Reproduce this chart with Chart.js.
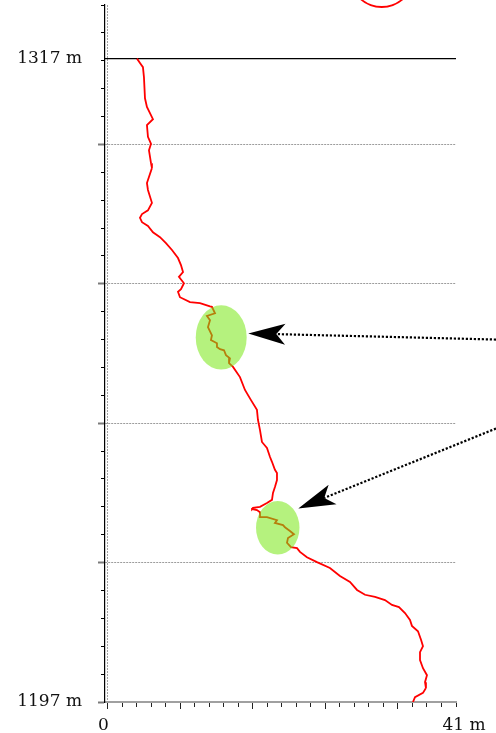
<!DOCTYPE html>
<html>
<head>
<meta charset="utf-8">
<script src="https://cdn.jsdelivr.net/npm/chart.js@4/dist/chart.umd.min.js"></script>
<style>
html, body { margin: 0; padding: 0; background: #fff; }
canvas { display: block; }
</style>
</head>
<body>
<canvas id="profileChart" width="496" height="733"></canvas>
<script>
// horizontal offset (m) and depth (m) of the traced profile, top to bottom
const offsetM = [3.42, 3.77, 4.12, 4.24, 4.36, 4.59, 5.30, 4.59, 4.71, 5.07, 4.83, 5.07, 5.18, 4.59, 4.71, 5.18,
    4.71, 4.01, 3.77, 4.01, 4.71, 5.30, 6.13, 6.83, 7.54, 8.25, 8.60, 8.84, 8.36, 8.95, 8.60, 8.25, 8.48, 9.66,
    10.84, 12.02, 12.25, 12.61, 11.66, 12.02, 11.78, 12.25, 12.13, 12.84, 12.84, 13.20, 13.67, 13.90, 14.37, 14.26,
    14.61, 14.73, 15.55, 16.14, 16.85, 17.55, 17.67, 17.91, 18.14, 18.73, 19.09, 19.32, 19.67, 19.91, 19.91, 19.67,
    19.44, 19.32, 18.73, 17.91, 17.08, 16.97, 17.55, 17.91, 17.91, 18.73, 19.91, 19.67, 20.62, 20.85, 21.44, 21.91,
    21.21, 21.09, 21.56, 22.27, 22.62, 23.44, 24.62, 26.15, 27.33, 28.51, 29.34, 30.28, 31.46, 32.63, 33.46, 34.28,
    34.99, 35.58, 35.81, 36.52, 36.88, 37.11, 36.76, 36.76, 37.11, 37.58, 37.35, 37.46, 37.11, 36.17, 35.93];
const depthM = [1317.0, 1316.2, 1315.4, 1313.5, 1309.6, 1308.0, 1305.7, 1304.6, 1302.4, 1301.1, 1299.9, 1297.5,
    1296.6, 1293.8, 1292.5, 1290.1, 1288.7, 1288.0, 1287.3, 1286.5, 1285.8, 1284.6, 1283.7, 1282.6, 1281.3, 1279.8,
    1278.5, 1277.2, 1276.3, 1275.1, 1274.0, 1273.5, 1272.5, 1271.6, 1271.4, 1270.8, 1270.7, 1269.5, 1269.0, 1268.2,
    1266.9, 1265.4, 1264.5, 1263.9, 1263.2, 1262.8, 1262.6, 1261.7, 1261.1, 1260.2, 1259.7, 1259.5, 1257.6, 1255.2,
    1253.3, 1251.5, 1249.6, 1247.7, 1245.5, 1244.4, 1242.7, 1241.8, 1240.3, 1239.7, 1238.4, 1237.1, 1236.0, 1234.7,
    1234.1, 1233.4, 1233.2, 1233.0, 1232.8, 1232.4, 1231.5, 1231.5, 1230.9, 1230.4, 1230.0, 1229.6, 1228.9, 1228.3,
    1227.6, 1226.7, 1225.9, 1225.7, 1225.0, 1224.0, 1223.1, 1222.0, 1220.5, 1219.4, 1217.9, 1217.0, 1216.6, 1216.0,
    1215.1, 1214.7, 1213.6, 1212.3, 1211.2, 1210.2, 1208.6, 1207.4, 1206.3, 1204.8, 1203.3, 1202.0, 1200.7, 1199.6,
    1198.7, 1197.9, 1197.0];

// axis range and tick labels
const depthMin = 1197;
const depthStep = 5.2;
const depthMax = depthMin + 25 * depthStep;
const refDepth = 1317;
const offsetMin = -0.35;
const offsetMax = 41;
const yTickLabels = { 1197: '1197 m', 1317: '1317 m' };
const xTickLabels = ['0', '41 m'];

// marker circle above the plot
const markerX = [32.25];
const markerY = [1332.6];

// highlighted zones (centre and half axes, in m)
const zoneX = [13.34, 20.0];
const zoneY = [1265.0, 1229.5];
const zoneRX = [3.0, 2.56];
const zoneRY = [6.0, 5.0];

// pointer arrows (from / to, in m)
const arrowFromX = [45.71, 45.71];
const arrowFromY = [1264.6, 1248.0];
const arrowToX = [16.53, 22.42];
const arrowToY = [1265.75, 1233.1];

const serif = '"DejaVu Serif", serif';

const yTicks = [];
for (let i = 0; i <= 25; i++) yTicks.push(+(depthMin + i * depthStep).toFixed(3));
const xTicks = [];
for (let i = 0; i <= 24; i++) xTicks.push(i * offsetMax / 24);

function yMajor(v) {
    const i = Math.round((v - depthMin) / depthStep);
    return Math.abs(yTicks[i] - v) < 1e-6 && i % 5 === 0 && i < 25;
}
function xMajor(v) {
    const i = Math.round(v / (offsetMax / 24));
    return i % 5 === 0;
}

const annotations = {
    id: 'annotations',
    afterDatasetsDraw(chart) {
        const c = chart.ctx;
        const xs = chart.scales.x, ys = chart.scales.y;

        // green zones over the line
        for (let i = 0; i < zoneX.length; i++) {
            const cx = xs.getPixelForValue(zoneX[i]);
            const cy = ys.getPixelForValue(zoneY[i]);
            const rx = Math.abs(xs.getPixelForValue(zoneX[i] + zoneRX[i]) - cx);
            const ry = Math.abs(ys.getPixelForValue(zoneY[i] + zoneRY[i]) - cy);
            c.save();
            c.fillStyle = 'rgba(120, 232, 20, 0.55)';
            c.beginPath();
            c.ellipse(cx, cy, rx, ry, 0, 0, Math.PI * 2);
            c.fill();
            c.restore();
        }

        // dotted arrows
        for (let i = 0; i < arrowFromX.length; i++) {
            const x0 = xs.getPixelForValue(arrowFromX[i]), y0 = ys.getPixelForValue(arrowFromY[i]);
            const x1 = xs.getPixelForValue(arrowToX[i]), y1 = ys.getPixelForValue(arrowToY[i]);
            const len = Math.hypot(x1 - x0, y1 - y0);
            const ux = (x1 - x0) / len, uy = (y1 - y0) / len;
            const nx = -uy, ny = ux;
            const notchX = x1 - ux * 28, notchY = y1 - uy * 28;
            c.save();
            c.strokeStyle = '#000';
            c.lineWidth = 2.2;
            c.setLineDash([2.2, 1.8]);
            c.beginPath();
            c.moveTo(x0, y0);
            c.lineTo(notchX, notchY);
            c.stroke();
            c.setLineDash([]);
            c.fillStyle = '#000';
            c.beginPath();
            c.moveTo(x1, y1);
            c.lineTo(x1 - ux * 37 + nx * 10.5, y1 - uy * 37 + ny * 10.5);
            c.lineTo(notchX, notchY);
            c.lineTo(x1 - ux * 37 - nx * 10.5, y1 - uy * 37 - ny * 10.5);
            c.closePath();
            c.fill();
            c.restore();
        }

        // x labels
        c.save();
        c.fillStyle = '#111';
        c.font = '17px ' + serif;
        c.textBaseline = 'alphabetic';
        c.textAlign = 'center';
        c.fillText(xTickLabels[0], xs.getPixelForValue(0) - 4.5, 730);
        c.textAlign = 'left';
        c.fillText(xTickLabels[1], xs.getPixelForValue(offsetMax) - 13.5, 730);
        c.restore();
    }
};

const ctx = document.getElementById('profileChart').getContext('2d');

window.profileChart = new Chart(ctx, {
    type: 'line',
    data: {
        datasets: [{
            label: 'profile',
            data: offsetM.map((x, i) => ({ x: x, y: depthM[i] })),
            borderColor: '#ff0000',
            borderWidth: 1.8,
            pointRadius: 0,
            tension: 0,
            fill: false
        }, {
            label: 'reference',
            data: [{ x: offsetMin, y: refDepth }, { x: offsetMax, y: refDepth }],
            borderColor: '#000',
            borderWidth: 1.3,
            pointRadius: 0,
            fill: false
        }, {
            type: 'scatter',
            label: 'marker',
            data: markerX.map((x, i) => ({ x: x, y: markerY[i] })),
            pointRadius: 32,
            borderColor: '#ff0000',
            borderWidth: 1.8,
            backgroundColor: 'rgba(0,0,0,0)',
            clip: false
        }]
    },
    options: {
        responsive: false,
        animation: false,
        layout: { autoPadding: false, padding: { top: 5, right: 40, bottom: 0, left: 0 } },
        plugins: {
            legend: { display: false },
            tooltip: { enabled: false }
        },
        scales: {
            x: {
                type: 'linear',
                position: 'bottom',
                min: offsetMin,
                max: offsetMax,
                afterBuildTicks: s => { s.ticks = xTicks.map(v => ({ value: v })); },
                afterFit: s => { s.height = 31; s.paddingLeft = 0; s.paddingRight = 0; },
                border: { display: true, color: '#a0a0a0', width: 2, dash: [2, 1] },
                grid: {
                    color: c => (c.tick && Math.abs(c.tick.value) < 1e-9) ? '#a0a0a0' : 'rgba(0,0,0,0)',
                    lineWidth: 1,
                    tickLength: 7,
                    tickColor: '#222',
                    tickWidth: 1,
                    tickBorderDash: c => (c.tick && xMajor(c.tick.value)) ? [] : [4, 20]
                },
                ticks: { display: false }
            },
            y: {
                type: 'linear',
                position: 'left',
                min: depthMin,
                max: depthMax,
                afterBuildTicks: s => {
                    s.ticks = yTicks.concat([refDepth]).sort((a, b) => a - b).map(v => ({ value: v }));
                },
                afterFit: s => { s.width = 105; s.paddingTop = 0; s.paddingBottom = 0; },
                border: { display: true, color: '#000', width: 1.2, dash: [2, 1] },
                grid: {
                    color: c => (c.tick && yMajor(c.tick.value)) ? '#9c9c9c' : 'rgba(0,0,0,0)',
                    lineWidth: 1,
                    tickLength: 7,
                    tickColor: c => {
                        if (!c.tick || c.tick.value === refDepth) return 'rgba(0,0,0,0)';
                        return yMajor(c.tick.value) ? '#7a7a7a' : '#000';
                    },
                    tickWidth: c => (c.tick && yMajor(c.tick.value)) ? 2 : 1,
                    tickBorderDash: c => (c.tick && yMajor(c.tick.value)) ? [] : [0, 3, 4, 20]
                },
                ticks: {
                    autoSkip: false,
                    padding: 16,
                    color: '#111',
                    font: { family: serif, size: 17 },
                    callback: v => yTickLabels[v] || ''
                }
            }
        }
    },
    plugins: [annotations]
});
</script>
</body>
</html>
